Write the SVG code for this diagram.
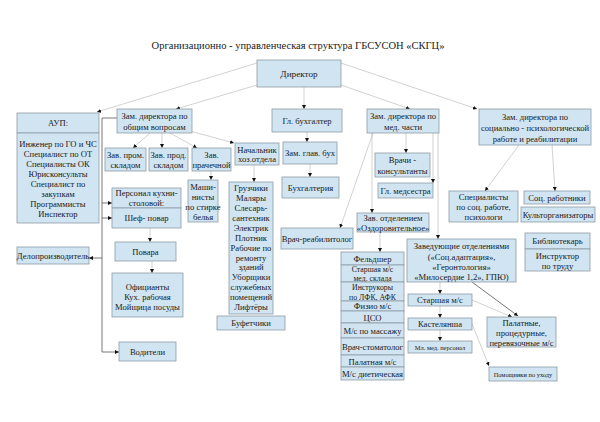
<svg xmlns="http://www.w3.org/2000/svg" width="600" height="422" viewBox="0 0 600 422">
<defs>
<style>
.b{fill:#d0e4f2;stroke:#8d9ba6;stroke-width:0.8}
.t{font-family:"Liberation Serif","Times New Roman",serif;font-size:8.6px;fill:#1a1a1a;text-anchor:middle}
.s{font-size:6.4px}
.n{font-size:7.8px}
.c{stroke:#b4b4b4;stroke-width:0.6;fill:none;marker-end:url(#ah)}
.d{stroke:#555;stroke-width:0.8}
</style>
<marker id="ah" viewBox="0 0 6 6" refX="6" refY="3" markerWidth="4" markerHeight="4" orient="auto" markerUnits="userSpaceOnUse"><path d="M0,0 L6,3 L0,6z" fill="#111"/></marker>
</defs>
<rect width="600" height="422" fill="#fff"/>
<text x="298" y="49" class="t" style="font-size:10.5px">Организационно - управленческая структура ГБСУСОН «СКГЦ»</text>

<g id="connectors">
<path class="c" d="M257,63 L97,112"/>
<path class="c" d="M257,85 L176,109"/>
<path class="c" d="M304,87 V109"/>
<path class="c" d="M341,85 L410,109"/>
<path class="c" d="M341,63 L477,109"/>
<path class="c" d="M150,133 L133,148"/>
<path class="c" d="M162,133 V148"/>
<path class="c" d="M170,133 L197,148"/>
<path class="c" d="M190,131 L234,143"/>
<path class="c" d="M211,171 V180"/>
<path class="c" d="M254,165 V182"/>
<path class="c d" d="M117,118 H102 V352 H119"/>
<path class="c d" d="M102,203 H112"/>
<path class="c d" d="M102,218 H112"/>
<path class="c d" d="M102,258 H89"/>
<path class="c" d="M150,228 V242"/>
<path class="c" d="M152,261 V273"/>
<path class="c" d="M307,132 V142"/>
<path class="c" d="M310,164 V177"/>
<path class="c" d="M406,133 V153"/>
<path class="c" d="M433,133 V183"/>
<path class="c" d="M438,133 V239"/>
<path class="c" d="M372,133 V213"/>
<path class="c" d="M373,133 L340,228"/>
<path class="c" d="M380,232 V252"/>
<path class="c" d="M440,282 V294"/>
<path class="c" d="M440,306 V318"/>
<path class="c" d="M440,330 V341"/>
<path class="c d" d="M472,282 L518,316"/>
<path class="c" d="M472,300 L512,317"/>
<path class="c" d="M472,324 L489,366"/>
<path class="c" d="M519,145 L485,191"/>
<path class="c" d="M552,145 L555,191"/>
</g>

<g id="director"><rect class="b" x="257" y="60" width="84" height="27"/><text class="t" x="299" y="77" style="font-size:9.2px">Директор</text></g>

<g id="aup">
<rect class="b" x="17" y="113" width="82" height="20"/><text class="t" x="58" y="126">АУП:</text>
<rect class="b" x="17" y="133" width="82" height="90"/>
<text class="t" x="58" y="147">Инженер по ГО и ЧС</text>
<text class="t" x="58" y="157">Специалист по ОТ</text>
<text class="t" x="58" y="167">Специалисты ОК</text>
<text class="t" x="58" y="177">Юрисконсульты</text>
<text class="t" x="58" y="187">Специалист по</text>
<text class="t" x="58" y="197">закупкам</text>
<text class="t" x="58" y="207">Программисты</text>
<text class="t" x="58" y="217">Инспектор</text>
</g>
<g id="delo"><rect class="b" x="17" y="247" width="72" height="17"/><text class="t" x="53" y="259">Делопроизводитель</text></g>

<g id="zam-gen"><rect class="b" x="117" y="109" width="75" height="24"/><text class="t" x="154.5" y="119">Зам. директора по</text><text class="t" x="154.5" y="129.5">общим вопросам</text></g>
<g id="prom"><rect class="b" x="105" y="148" width="41" height="23"/><text class="t" x="125.5" y="158">Зав. пром.</text><text class="t" x="125.5" y="168">складом</text></g>
<g id="prod"><rect class="b" x="149" y="148" width="39" height="23"/><text class="t" x="168.5" y="158">Зав. прод.</text><text class="t" x="168.5" y="168">складом</text></g>
<g id="prach"><rect class="b" x="192" y="148" width="39" height="23"/><text class="t" x="211.5" y="158">Зав.</text><text class="t" x="211.5" y="168">прачечной</text></g>
<g id="hoz"><rect class="b" x="235" y="143" width="44" height="22"/><text class="t" x="257" y="152.5">Начальник</text><text class="t" x="257" y="162">хоз.отдела</text></g>
<g id="mash"><rect class="b" x="188" y="180" width="30" height="42"/><text class="t" x="203" y="190">Маши-</text><text class="t" x="203" y="200">нисты</text><text class="t" x="203" y="210">по стирке</text><text class="t" x="203" y="220">белья</text></g>
<g id="gruz"><rect class="b" x="229" y="182" width="44" height="132"/>
<text class="t" x="251" y="191">Грузчики</text>
<text class="t" x="251" y="201">Маляры</text>
<text class="t" x="251" y="211">Слесарь-</text>
<text class="t" x="251" y="221">сантехник</text>
<text class="t" x="251" y="231">Электрик</text>
<text class="t" x="251" y="240.5">Плотник</text>
<text class="t" x="251" y="250.5">Рабочие по</text>
<text class="t" x="251" y="260.5">ремонту</text>
<text class="t" x="251" y="270">зданий</text>
<text class="t" x="251" y="280">Уборщики</text>
<text class="t" x="251" y="290">служебных</text>
<text class="t" x="251" y="300">помещений</text>
<text class="t" x="251" y="310">Лифтёры</text>
</g>
<g id="bufet"><rect class="b" x="217" y="316" width="68" height="14"/><text class="t" x="251" y="326">Буфетчики</text></g>
<g id="kuhnya"><rect class="b" x="112" y="188" width="69" height="20"/><text class="t" x="146.5" y="196">Персонал кухни-</text><text class="t" x="146.5" y="206">столовой:</text></g>
<g id="shef"><rect class="b" x="112" y="208" width="69" height="20"/><text class="t" x="146.5" y="221">Шеф- повар</text></g>
<g id="povara"><rect class="b" x="115" y="242" width="61" height="19"/><text class="t" x="145.5" y="255">Повара</text></g>
<g id="ofic"><rect class="b" x="112" y="273" width="71" height="44"/><text class="t" x="147.5" y="290">Официанты</text><text class="t" x="147.5" y="300">Кух. рабочая</text><text class="t" x="147.5" y="309.5">Мойщица посуды</text></g>
<g id="vod"><rect class="b" x="119" y="342" width="57" height="19"/><text class="t" x="147.5" y="355">Водители</text></g>

<g id="glbuh"><rect class="b" x="272" y="109" width="70" height="23"/><text class="t" x="307" y="124">Гл. бухгалтер</text></g>
<g id="zamglbuh"><rect class="b" x="283" y="142" width="54" height="22"/><text class="t" x="310" y="156">Зам. глав. бух</text></g>
<g id="buh"><rect class="b" x="282" y="177" width="57" height="21"/><text class="t" x="310.5" y="190.5">Бухгалтерия</text></g>

<g id="zam-med"><rect class="b" x="367" y="109" width="72" height="24"/><text class="t" x="403" y="119">Зам. директора по</text><text class="t" x="403" y="129.5">мед. части</text></g>
<g id="vrachi"><rect class="b" x="375" y="153" width="55" height="24"/><text class="t" x="402.5" y="163">Врачи -</text><text class="t" x="402.5" y="174">консультанты</text></g>
<g id="glmed"><rect class="b" x="378" y="183" width="55" height="15"/><text class="t" x="405.5" y="194">Гл. медсестра</text></g>
<g id="ozdor"><rect class="b" x="357" y="213" width="72" height="19"/><text class="t" x="393" y="221">Зав. отделением</text><text class="t" x="393" y="231">«Оздоровительное»</text></g>
<g id="reab"><rect class="b" x="281" y="228" width="72" height="21"/><text class="t" x="317" y="241.5">Врач-реабилитолог</text></g>
<g id="feldsher">
<rect class="b" x="341" y="252" width="63" height="13"/><text class="t" x="372.5" y="262">Фельдшер</text>
<rect class="b" x="341" y="265" width="63" height="17"/><text class="t n" x="372.5" y="272">Старшая м/с</text><text class="t n" x="372.5" y="281">мед. склада</text>
<rect class="b" x="341" y="282" width="63" height="19"/><text class="t n" x="372.5" y="290">Инструкоры</text><text class="t n" x="372.5" y="300">по ЛФК, АФК</text>
<rect class="b" x="341" y="301" width="63" height="10"/><text class="t" x="372.5" y="309">Физио м/с</text>
<rect class="b" x="341" y="311" width="63" height="12"/><text class="t" x="372.5" y="320.5">ЦСО</text>
<rect class="b" x="341" y="323" width="63" height="15"/><text class="t" x="372.5" y="333.5">М/с по массажу</text>
<rect class="b" x="341" y="338" width="63" height="17"/><text class="t" x="372.5" y="350">Врач-стоматолог</text>
<rect class="b" x="341" y="355" width="63" height="12"/><text class="t" x="372.5" y="364.5">Палатная м/с</text>
<rect class="b" x="341" y="367" width="63" height="13"/><text class="t" x="372.5" y="377">М/с диетическая</text>
</g>
<g id="zaved"><rect class="b" x="407" y="239" width="109" height="43"/>
<text class="t" x="461.5" y="249">Заведующие  отделениями</text>
<text class="t" x="461.5" y="259.5">(«Соц.адаптация»,</text>
<text class="t" x="461.5" y="269.5">«Геронтология»</text>
<text class="t" x="461.5" y="280">«Милосердие 1,2», ГПЮ)</text>
</g>
<g id="starshaya"><rect class="b" x="408" y="294" width="64" height="12"/><text class="t" x="440" y="303">Старшая м/с</text></g>
<g id="kastel"><rect class="b" x="408" y="318" width="64" height="12"/><text class="t" x="440" y="327">Кастелянша</text></g>
<g id="mlmed"><rect class="b" x="408" y="341" width="64" height="12"/><text class="t s" x="440" y="349.5">Мл. мед. персонал</text></g>
<g id="palat"><rect class="b" x="487" y="317" width="69" height="30"/><text class="t" x="521.5" y="326">Палатные,</text><text class="t" x="521.5" y="336">процедурные,</text><text class="t" x="521.5" y="345.5">перевязочные м/с</text></g>
<g id="pomosh"><rect class="b" x="489" y="367" width="68" height="14"/><text class="t s" x="523" y="376.5">Помощники по уходу</text></g>

<g id="zam-soc"><rect class="b" x="479" y="109" width="112" height="36"/><text class="t" x="535" y="120">Зам. директора по</text><text class="t" x="535" y="131">социально - психологической</text><text class="t" x="535" y="141.5">работе и реабилитации</text></g>
<g id="spec"><rect class="b" x="449" y="191" width="69" height="31"/><text class="t" x="483.5" y="200">Специалисты</text><text class="t" x="483.5" y="210">по соц. работе,</text><text class="t" x="483.5" y="220">психологи</text></g>
<g id="socrab"><rect class="b" x="524" y="191" width="66" height="13"/><text class="t" x="557" y="201">Соц. работники</text></g>
<g id="kult"><rect class="b" x="521" y="207" width="74" height="15"/><text class="t" x="558" y="218">Культорганизаторы</text></g>
<g id="bibl"><rect class="b" x="525" y="233" width="65" height="16"/><text class="t" x="557.5" y="244">Библиотекарь</text></g>
<g id="instr"><rect class="b" x="525" y="249" width="65" height="22"/><text class="t" x="557.5" y="259">Инструктор</text><text class="t" x="557.5" y="268.5">по труду</text></g>
</svg>
